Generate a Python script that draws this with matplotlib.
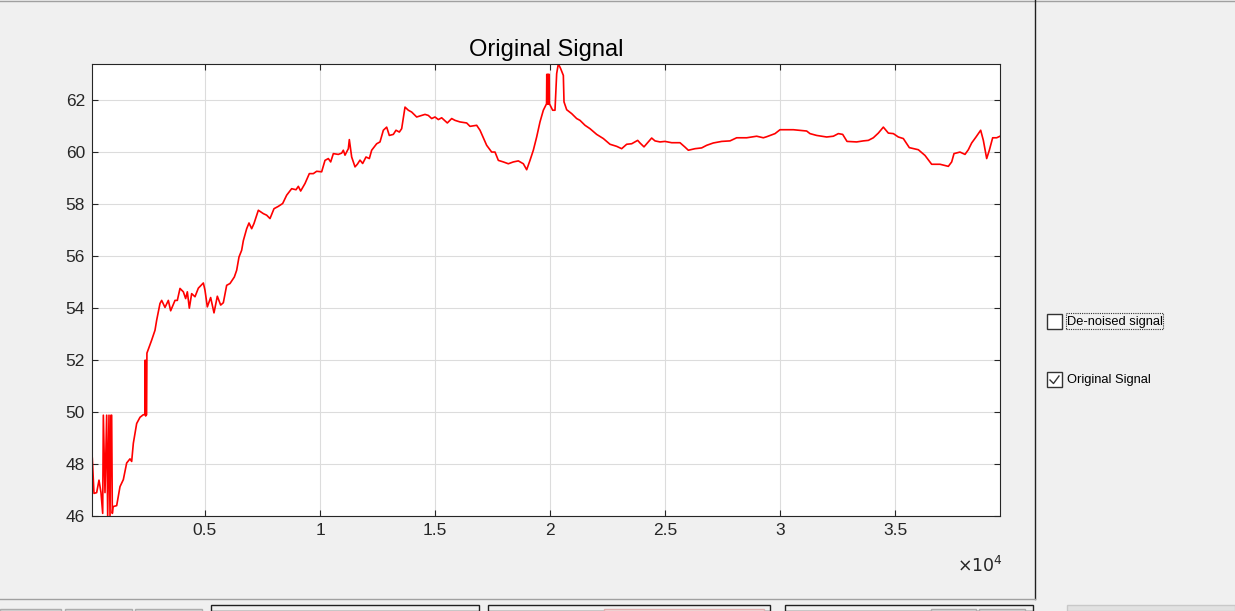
import matplotlib
matplotlib.use("Agg")
import matplotlib.pyplot as plt
from matplotlib.patches import Rectangle
from matplotlib.lines import Line2D

# signal (sample index, value)
sample = [100, 174, 290, 391, 478, 552, 580, 652, 725, 769, 826, 870, 913, 942, 971, 1000,
          1160, 1304, 1449, 1594, 1739, 1812, 1884, 2029, 2174, 2319, 2391, 2400, 2420, 2460,
          2475, 2681, 2826, 2899, 3043, 3116, 3261, 3406, 3507, 3696, 3797, 3913, 4058, 4159,
          4232, 4319, 4420, 4565, 4710, 4928, 5000, 5101, 5246, 5391, 5536, 5681, 5797, 5942,
          6087, 6275, 6377, 6478, 6594, 6667, 6812, 6913, 7029, 7130, 7319, 7536, 7681, 7826,
          8000, 8188, 8377, 8551, 8768, 8957, 9058, 9159, 9348, 9536, 9710, 9855,
          10072, 10217, 10362, 10464, 10580, 10797, 10942, 11014, 11087, 11232, 11275, 11377,
          11522, 11623, 11739, 11855, 12000, 12145, 12246, 12464, 12609, 12754, 12899, 13014,
          13188, 13304, 13449, 13551, 13696, 13841, 13986, 14203, 14420, 14565, 14710, 14855,
          15000, 15145, 15290, 15536, 15725, 15870, 16087, 16377, 16522, 16812, 16957, 17246,
          17464, 17609, 17754, 17971, 18188, 18406, 18623, 18841, 18986, 19130, 19275, 19420,
          19565, 19710, 19783, 19850, 19860, 19880, 19895, 19915, 19930, 19950, 19965, 19975,
          20116, 20217, 20290, 20362, 20464, 20580, 20609, 20725, 20942, 21159, 21304, 21522,
          21739, 22029, 22319, 22609, 22899, 23116, 23333, 23551, 23812, 23913, 24087, 24275,
          24420, 24565, 24783, 25000, 25290, 25652, 25870, 26014, 26304, 26594, 26812, 27101,
          27464, 27826, 28116, 28551, 28986, 29275, 29420, 29783, 30000, 30580, 31159, 31304,
          31594, 32029, 32319, 32536, 32725, 32913, 33333, 33623, 33841, 34058, 34275, 34493,
          34710, 34928, 35145, 35362, 35623, 36014, 36304, 36594, 36957, 37319, 37464, 37565,
          37826, 38043, 38188, 38333, 38522, 38725, 38841, 38986, 39101, 39246, 39420, 39565]
signal = [48.22, 46.87, 46.9, 47.38, 46.9, 46.1, 49.88, 46.9, 49.88, 46.0, 49.88, 46.0, 49.88,
          49.88, 46.1, 46.36,
          46.4, 47.13, 47.4, 48.04, 48.2, 48.1, 48.8, 49.56, 49.8, 49.9, 49.9, 52.0, 49.85, 49.9,
          52.27, 52.77, 53.15, 53.54, 54.18, 54.3, 54.03, 54.3, 53.9, 54.3, 54.3, 54.76, 54.63, 54.37,
          54.63, 54.0, 54.56, 54.44, 54.77, 54.97, 54.69, 54.05, 54.41, 53.82, 54.46, 54.12, 54.21, 54.88,
          54.95, 55.2, 55.46, 55.97, 56.23, 56.6, 57.06, 57.28, 57.06, 57.26, 57.77, 57.64, 57.58, 57.45,
          57.83, 57.92, 58.03, 58.35, 58.6, 58.56, 58.69, 58.51, 58.8, 59.18, 59.18, 59.27,
          59.25, 59.69, 59.76, 59.63, 59.95, 59.92, 59.97, 60.08, 59.89, 60.14, 60.49, 59.82,
          59.44, 59.54, 59.7, 59.57, 59.82, 59.76, 60.08, 60.33, 60.4, 60.85, 60.97, 60.65,
          60.69, 60.85, 60.78, 60.91, 61.74, 61.62, 61.55, 61.36, 61.42, 61.46, 61.42, 61.3,
          61.36, 61.26, 61.33, 61.13, 61.3, 61.23, 61.17, 61.13, 61.0, 61.04, 60.85, 60.27,
          60.01, 60.01, 59.69, 59.63, 59.56, 59.63, 59.67, 59.56, 59.33, 59.69, 60.08, 60.59,
          61.17, 61.62, 61.75, 61.87, 63.0, 61.9, 63.0, 61.85, 63.0, 61.9, 63.0, 61.87,
          61.62, 61.62, 63.03, 63.41, 63.22, 62.96, 61.94, 61.64, 61.49, 61.3, 61.23, 61.04,
          60.91, 60.69, 60.53, 60.31, 60.23, 60.14, 60.31, 60.33, 60.46, 60.36, 60.21, 60.4,
          60.55, 60.44, 60.4, 60.42, 60.37, 60.37, 60.2, 60.08, 60.14, 60.17, 60.27, 60.36,
          60.42, 60.44, 60.56, 60.56, 60.62, 60.56, 60.6, 60.72, 60.87, 60.87, 60.82, 60.72,
          60.65, 60.59, 60.62, 60.72, 60.69, 60.42, 60.4, 60.44, 60.46, 60.56, 60.74, 60.97,
          60.74, 60.72, 60.59, 60.53, 60.18, 60.1, 59.88, 59.54, 59.54, 59.46, 59.63, 59.95,
          60.01, 59.92, 60.1, 60.36, 60.59, 60.85, 60.46, 59.76, 60.08, 60.56, 60.56, 60.62]

xticks = [5000, 10000, 15000, 20000, 25000, 30000, 35000]
xtick_labels = ['0.5', '1', '1.5', '2', '2.5', '3', '3.5']
yticks = [46, 48, 50, 52, 54, 56, 58, 60, 62]

W, H = 1235, 611
plt.rcParams['font.family'] = ['Liberation Sans', 'DejaVu Sans']

fig = plt.figure(figsize=(W / 100, H / 100), dpi=100, facecolor='#f0f0f0')


def fx(px):
    return px / W


def fy(py):
    return 1 - py / H


ax = fig.add_axes([fx(92), fy(516), fx(1000) - fx(92), fy(64) - fy(516)])
ax.plot(sample, signal, color='#ff0000', lw=1.2)
ax.set_xlim(87, 39565)
ax.set_ylim(46, 63.4)
ax.set_xticks(xticks)
ax.set_xticklabels(xtick_labels)
ax.set_yticks(yticks)
ax.grid(True, color='#dcdcdc', lw=0.8)
ax.set_axisbelow(True)
ax.tick_params(direction='in', length=4, width=0.8, top=True, right=True,
               labelsize=12.5, colors='#262626', pad=5)
for s in ax.spines.values():
    s.set_color('#262626')
    s.set_linewidth(0.8)
ax.set_title('Original Signal', fontsize=17, color='black', pad=6)
fig.text(fx(980), fy(565), r'$\times10^4$', fontsize=12.5, color='#262626',
         ha='center', va='center')

# GUI chrome around the axes
fig.add_artist(Line2D([0, 1], [fy(0.5), fy(0.5)], color='#a0a0a0', lw=1))
fig.add_artist(Line2D([fx(1035), fx(1035)], [fy(0), fy(599)], color='#202020', lw=1))
fig.add_artist(Line2D([0, fx(1035)], [fy(599), fy(599)], color='#a0a0a0', lw=1))
for x0, x1 in [(211, 479), (488, 770), (785, 1033)]:
    fig.add_artist(Rectangle((fx(x0), fy(611)), fx(x1) - fx(x0), fy(605) - fy(611),
                             facecolor='#f0f0f0', edgecolor='#202020', lw=1))
for x0, x1 in [(0, 61), (65, 132), (135, 202), (931, 976), (979, 1025)]:
    fig.add_artist(Rectangle((fx(x0), fy(611)), fx(x1) - fx(x0), fy(609) - fy(611),
                             facecolor='#e1e1e1', edgecolor='#adadad', lw=1))
fig.add_artist(Rectangle((fx(604), fy(611)), fx(764) - fx(604), fy(609) - fy(611),
                         facecolor='#f6e6e6', edgecolor='#e0b0b0', lw=1))
fig.add_artist(Rectangle((fx(1067), fy(611)), fx(1235) - fx(1067), fy(605) - fy(611),
                         facecolor='#e1e1e1', edgecolor='#c8c8c8', lw=1))

# check boxes
for top, label, checked in [(314, 'De-noised signal', False), (372, 'Original Signal', True)]:
    fig.add_artist(Rectangle((fx(1047), fy(top + 15)), fx(15), fy(0) - fy(15),
                             facecolor='white', edgecolor='#333333', lw=1))
    fig.text(fx(1067), fy(top + 8), label, fontsize=9.3, color='black', va='center')
    if checked:
        fig.add_artist(Line2D([fx(1050), fx(1053.5), fx(1059)],
                              [fy(top + 8), fy(top + 11.5), fy(top + 4)],
                              color='#333333', lw=1))
fig.add_artist(Rectangle((fx(1066), fy(329)), fx(97), fy(0) - fy(16),
                         facecolor='none', edgecolor='#333333', lw=0.8, ls=(0, (1, 1))))

fig.savefig('out.png', dpi=100, facecolor=fig.get_facecolor())
